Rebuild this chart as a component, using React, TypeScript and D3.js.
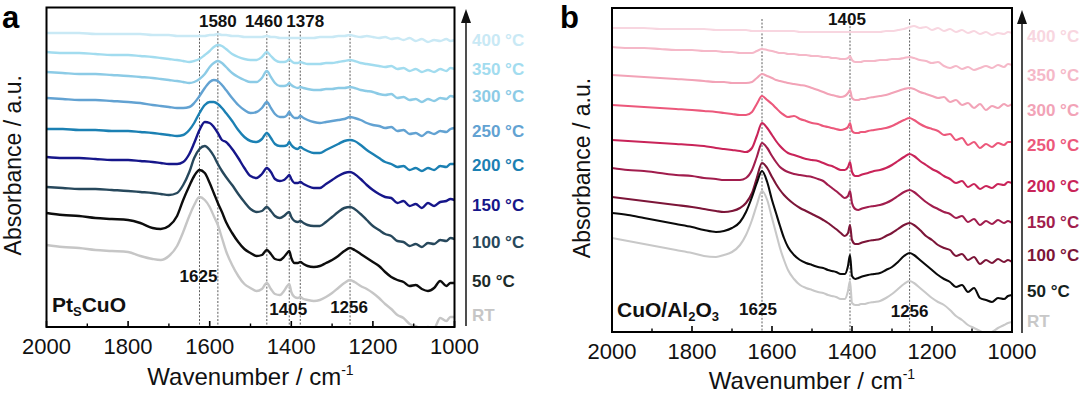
import React from 'react';
import * as d3 from 'd3';

// ---------- DATA ----------
const wavenumbers = [2000,1960,1920,1880,1840,1800,1770,1740,1720,1700,1680,1665,1650,1638,1625,1612,1600,1590,1580,1570,1560,1545,1530,1515,1500,1485,1472,1460,1450,1440,1428,1418,1410,1405,1400,1392,1384,1378,1370,1360,1345,1330,1315,1300,1285,1270,1256,1245,1230,1215,1200,1185,1170,1155,1140,1125,1110,1095,1080,1065,1050,1035,1020,1010,1000];

const tempLabels = ['400 °C','350 °C','300 °C','250 °C','200 °C','150 °C','100 °C','50 °C','RT'];

// Panel a: Pt5CuO (absorbance, offset-stacked, a.u.)
const a400 = [294,294,294,293,293,293,293,292,292,292,291,291,291,291,291,291,292,292,293,292,292,291,291,290,290,290,290,291,290,290,289,289,289,289,289,289,289,289,289,289,289,290,290,290,291,291,292,291,290,291,290,289,290,288,289,287,289,286,288,285,287,286,288,286,287];
const a350 = [275,274,274,273,272,272,271,270,269,268,267,266,265,266,268,272,276,280,282,281,278,273,270,268,267,267,270,275,271,267,265,265,266,268,266,264,264,265,264,263,263,263,264,264,265,266,267,266,264,263,262,261,260,261,258,259,256,258,255,257,255,258,256,259,258];
const a300 = [255,254,253,253,252,251,250,249,248,247,246,245,244,245,248,253,260,264,266,264,260,254,250,247,245,245,249,256,250,244,241,241,242,244,242,240,239,240,239,238,237,237,238,238,239,239,240,239,237,236,235,233,232,233,229,230,227,228,225,228,226,229,228,231,230];
const a250 = [229,228,227,227,226,225,224,222,221,220,219,219,220,224,231,239,245,247,246,242,237,229,222,217,214,215,219,225,219,213,210,210,212,215,212,209,209,211,209,207,205,204,205,206,207,208,210,209,207,204,202,201,199,200,196,197,193,194,191,195,193,196,195,198,199];
const a200 = [198,198,197,197,196,196,195,194,193,192,191,192,197,204,214,222,225,225,223,219,214,206,197,190,186,185,188,194,189,183,181,181,182,185,182,179,178,180,178,176,174,174,177,180,183,186,187,186,182,177,173,169,165,163,160,161,157,159,156,159,157,161,160,163,163];
const a150 = [170,169,169,168,167,167,166,165,164,163,163,165,173,184,197,205,204,200,194,187,185,178,169,159,151,149,153,159,155,148,146,147,150,152,148,144,144,145,143,141,139,139,143,147,151,154,155,153,148,142,137,133,130,129,124,126,121,123,119,124,121,125,126,128,127];
const a100 = [140,139,138,138,137,136,135,134,133,132,134,142,155,169,178,181,177,171,163,156,150,142,133,125,118,115,116,120,116,111,109,111,114,115,110,106,105,106,104,102,101,101,105,110,115,119,120,118,113,107,101,97,93,91,86,85,81,83,80,84,83,87,86,89,88];
const a50 = [114,112,111,109,108,107,104,99,98,101,111,127,141,151,157,154,144,134,124,115,105,94,85,78,74,71,72,77,73,68,67,70,74,76,69,64,64,65,63,61,60,61,64,67,71,76,79,77,73,69,65,61,55,50,47,45,41,42,38,36,39,46,41,44,44];
const aRT = [82,80,79,77,76,75,71,68,67,71,81,95,111,122,130,127,120,111,102,89,76,62,51,43,39,36,38,44,38,33,32,36,41,43,35,30,29,30,28,27,26,27,30,34,39,44,47,45,41,38,34,29,23,18,12,9,3,1,-2,0,-1,9,6,10,10];

// Panel b: CuO/Al2O3
const b400 = [304,304,304,303,303,303,303,302,302,302,302,302,301,301,301,301,301,301,301,301,301,301,300,300,300,300,300,300,300,300,300,300,300,300,300,300,300,300,300,300,300,300,301,301,302,303,305,306,304,305,302,304,301,303,300,302,299,301,298,300,297,299,298,300,299];
const b350 = [285,284,284,283,282,282,281,281,280,280,279,279,279,281,283,282,281,280,279,279,278,278,277,277,276,276,275,275,274,274,273,273,274,276,272,270,270,270,271,271,271,272,272,273,273,274,275,274,272,271,269,270,266,264,266,263,265,262,264,266,264,267,265,268,267];
const b300 = [257,256,255,254,253,252,251,250,250,249,249,249,250,254,258,256,254,252,251,250,249,248,247,246,244,242,240,238,237,236,235,236,239,242,234,232,232,233,233,234,235,236,237,239,241,243,244,243,240,238,236,234,235,230,232,227,229,224,228,222,226,224,228,226,228];
const b250 = [227,226,225,224,223,222,221,220,219,218,217,217,220,228,236,232,228,224,220,217,215,216,213,211,209,208,206,205,204,203,202,203,205,209,201,199,199,200,200,201,202,203,204,206,209,212,214,212,208,205,203,201,197,198,192,194,187,190,184,188,185,189,187,190,190];
const b200 = [192,191,190,189,188,187,186,184,183,182,181,180,184,196,209,204,197,191,186,182,179,177,175,173,172,171,169,167,166,164,162,162,165,170,160,156,156,157,158,159,161,162,164,167,171,175,178,176,171,167,163,160,156,153,149,151,145,148,143,146,144,148,147,150,149];
const b150 = [164,162,161,159,157,156,154,153,152,152,152,154,162,175,189,184,176,170,165,162,160,158,157,156,155,153,151,147,144,141,137,134,136,141,129,123,122,123,124,125,126,127,129,132,136,140,142,140,135,130,126,123,120,118,114,116,110,113,107,111,108,112,109,111,109];
const b100 = [135,133,131,129,127,125,123,121,120,121,124,129,139,154,169,164,155,148,142,137,133,128,124,121,118,115,112,109,106,103,99,96,99,107,92,88,88,89,90,91,92,93,96,99,103,107,109,107,102,96,92,87,84,82,76,78,72,75,68,72,69,73,70,72,70];
const b50 = [119,117,114,111,108,105,102,100,101,104,110,120,135,149,161,150,132,119,106,94,85,77,72,69,67,65,64,62,61,60,58,58,66,77,56,53,54,55,56,57,58,59,62,65,70,76,79,77,72,67,62,57,53,50,45,47,40,44,34,32,30,34,33,36,37];
const bRT = [94,91,88,85,82,79,76,75,77,80,87,97,112,127,141,132,114,99,84,72,62,53,47,44,42,40,39,37,36,35,33,33,41,51,29,27,27,28,28,29,30,31,34,38,43,48,51,49,44,39,34,30,27,22,16,12,7,4,1,-2,0,4,7,9,10];

const seriesA = [a400, a350, a300, a250, a200, a150, a100, a50, aRT];
const seriesB = [b400, b350, b300, b250, b200, b150, b100, b50, bRT];

const xTickValues = [2000, 1800, 1600, 1400, 1200, 1000];
const xMinorValues = [1900, 1700, 1500, 1300, 1100];

const peaksA = [1625, 1580, 1460, 1405, 1378, 1256];
const peaksB = [1625, 1405, 1256];
const peakTopA = ['1580', '1460', '1378'];
const peakBottomA = ['1625', '1405', '1256'];
const peakTopB = ['1405'];
const peakBottomB = ['1625', '1256'];

// ---------- STYLE ----------
const colorsA = ['#c9e9f5', '#a2dcef', '#8ccbe6', '#62a2d2', '#1b80b3', '#16168a', '#27485c', '#0d0d0d', '#c6c6c6'];
const labelColorsA = ['#c9e9f5', '#a2dcef', '#8ccbe6', '#62a2d2', '#1b80b3', '#16168a', '#27485c', '#1c2b28', '#c6c6c6'];
const colorsB = ['#f8d6e0', '#f5b8c8', '#f2a3b7', '#ec587b', '#c92459', '#a11d4d', '#7c1538', '#0a0a0a', '#c8c8c8'];
const labelColorsB = ['#f8d6e0', '#f5b8c8', '#f2a3b7', '#ec587b', '#c92459', '#a11d4d', '#7c1538', '#14231e', '#c8c8c8'];

const FONT = '"Liberation Sans", Arial, Helvetica, sans-serif';

type PanelCfg = {
  id: string;
  letter: string;
  letterX: number;
  x0: number; x1: number; top: number; bottom: number; yMax: number;
  series: number[][];
  colors: string[];
  labelColors: string[];
  labelX: number;
  labelY: number[];
  arrowX: number; arrowTop: number; arrowBottom: number;
  peaks: number[];
  dashTop: number;
  topLabels: { text: string; dx: number; y: number }[];
  bottomLabels: { text: string; dx: number; y: number }[];
  sample: React.ReactNode;
  yTitleX: number;
  xTitleY: number;
  tickLabelY: number;
  lineWidth: number;
};

function Panel({ cfg }: { cfg: PanelCfg }) {
  const x = d3.scaleLinear().domain([2000, 1000]).range([cfg.x0, cfg.x1]);
  const y = d3.scaleLinear().domain([0, cfg.yMax]).range([cfg.bottom, cfg.top]);
  const line = d3
    .line<number>()
    .x((_, i) => x(wavenumbers[i]))
    .y((d) => y(d))
    .curve(d3.curveMonotoneX);
  const clipId = `clip-${cfg.id}`;
  const midY = (cfg.top + cfg.bottom) / 2 - 2;
  return (
    <g>
      <defs>
        <clipPath id={clipId}>
          <rect x={cfg.x0} y={cfg.top} width={cfg.x1 - cfg.x0} height={cfg.bottom - cfg.top} />
        </clipPath>
      </defs>
      {/* dashed reference lines */}
      {cfg.peaks.map((p) => (
        <line key={p} x1={x(p)} x2={x(p)} y1={cfg.dashTop} y2={cfg.bottom} stroke="#333" strokeWidth={0.8} strokeDasharray="2,1.6" />
      ))}
      {/* spectra */}
      <g clipPath={`url(#${clipId})`}>
        {cfg.series.map((s, i) => (
          <path key={i} d={line(s) || ''} fill="none" stroke={cfg.colors[i]} strokeWidth={cfg.lineWidth} strokeLinejoin="round" />
        ))}
      </g>
      {/* frame */}
      <rect x={cfg.x0} y={cfg.top} width={cfg.x1 - cfg.x0} height={cfg.bottom - cfg.top} fill="none" stroke="#000" strokeWidth={2} />
      {/* ticks */}
      {xTickValues.map((t) => (
        <g key={t}>
          <line x1={x(t)} x2={x(t)} y1={cfg.bottom} y2={cfg.bottom - 6} stroke="#000" strokeWidth={1.6} />
          <text x={x(t)} y={cfg.tickLabelY} textAnchor="middle" fontFamily={FONT} fontSize={22} fill="#111">{t}</text>
        </g>
      ))}
      {xMinorValues.map((t) => (
        <line key={t} x1={x(t)} x2={x(t)} y1={cfg.bottom} y2={cfg.bottom - 3.5} stroke="#000" strokeWidth={1.4} />
      ))}
      {/* peak labels */}
      {cfg.topLabels.map((l) => (
        <text key={'t' + l.text} x={x(+l.text) + l.dx} y={l.y} textAnchor="middle" fontFamily={FONT} fontWeight="bold" fontSize={17} fill="#111">{l.text}</text>
      ))}
      {cfg.bottomLabels.map((l) => (
        <text key={'b' + l.text} x={x(+l.text) + l.dx} y={l.y} textAnchor="middle" fontFamily={FONT} fontWeight="bold" fontSize={17} fill="#111">{l.text}</text>
      ))}
      {/* sample name */}
      {cfg.sample}
      {/* arrow */}
      <line x1={cfg.arrowX} x2={cfg.arrowX} y1={cfg.arrowBottom} y2={cfg.arrowTop + 10} stroke="#222" strokeWidth={1.6} />
      <path d={`M${cfg.arrowX},${cfg.arrowTop} L${cfg.arrowX - 5},${cfg.arrowTop + 14} L${cfg.arrowX + 5},${cfg.arrowTop + 14} Z`} fill="#111" />
      {/* temperature labels */}
      {tempLabels.map((t, i) => (
        <text key={t} x={cfg.labelX} y={cfg.labelY[i]} dominantBaseline="middle" fontFamily={FONT} fontWeight="bold" fontSize={17} fill={cfg.labelColors[i]}>{t}</text>
      ))}
      {/* axis titles */}
      <text transform={`translate(${cfg.yTitleX},${midY}) rotate(-90)`} textAnchor="middle" fontFamily={FONT} fontSize={23} fill="#111">Absorbance / a.u.</text>
      <text x={(cfg.x0 + cfg.x1) / 2} y={cfg.xTitleY} textAnchor="middle" fontFamily={FONT} fontSize={24} fill="#111">
        Wavenumber / cm<tspan fontSize={14} dy={-10}>-1</tspan>
      </text>
      {/* panel letter */}
      <text x={cfg.letterX} y={28} fontFamily={FONT} fontWeight="bold" fontSize={31} fill="#000">{cfg.letter}</text>
    </g>
  );
}

const panelA: PanelCfg = {
  id: 'a', letter: 'a', letterX: 2,
  x0: 46.5, x1: 454.5, top: 7.5, bottom: 327, yMax: 319.5,
  series: seriesA, colors: colorsA, labelColors: labelColorsA,
  labelX: 472, labelY: [42, 71, 98, 133, 167, 207, 244, 283, 317],
  arrowX: 466, arrowTop: 9, arrowBottom: 326,
  peaks: peaksA, dashTop: 31,
  topLabels: [
    { text: peakTopA[0], dx: 0, y: 27 },
    { text: peakTopA[1], dx: -3, y: 27 },
    { text: peakTopA[2], dx: 5, y: 27 },
  ],
  bottomLabels: [
    { text: peakBottomA[0], dx: -1, y: 282 },
    { text: peakBottomA[1], dx: -1, y: 315 },
    { text: peakBottomA[2], dx: -1, y: 313 },
  ],
  sample: (
    <text x={52} y={312} fontFamily={FONT} fontWeight="bold" fontSize={21} fill="#111">
      Pt<tspan fontSize={13} dy={4}>S</tspan><tspan dy={-4}>CuO</tspan>
    </text>
  ),
  yTitleX: 21, xTitleY: 385, tickLabelY: 354, lineWidth: 2.4,
};

const panelB: PanelCfg = {
  id: 'b', letter: 'b', letterX: 560,
  x0: 612, x1: 1012, top: 8, bottom: 332, yMax: 324,
  series: seriesB, colors: colorsB, labelColors: labelColorsB,
  labelX: 1027, labelY: [38, 77, 112, 147, 188, 224, 257, 293, 323],
  arrowX: 1022, arrowTop: 10, arrowBottom: 333,
  peaks: peaksB, dashTop: 19,
  topLabels: [{ text: peakTopB[0], dx: -3, y: 25 }],
  bottomLabels: [
    { text: peakBottomB[0], dx: -4, y: 315 },
    { text: peakBottomB[1], dx: 0, y: 317 },
  ],
  sample: (
    <text x={617} y={317} fontFamily={FONT} fontWeight="bold" fontSize={21} fill="#111">
      CuO/Al<tspan fontSize={13} dy={4}>2</tspan><tspan dy={-4}>O</tspan><tspan fontSize={13} dy={4}>3</tspan>
    </text>
  ),
  yTitleX: 590, xTitleY: 389, tickLabelY: 359, lineWidth: 2.1,
};

export default function App() {
  return (
    <svg width={1080} height={394} viewBox="0 0 1080 394" style={{ position: 'absolute', left: 0, top: 0, background: '#fff' }}>
      <rect x={0} y={0} width={1080} height={394} fill="#fff" />
      <Panel cfg={panelA} />
      <Panel cfg={panelB} />
    </svg>
  );
}
